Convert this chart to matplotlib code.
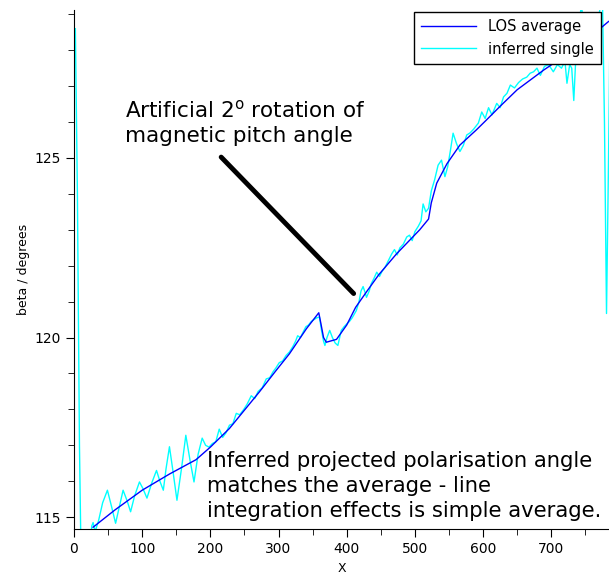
import matplotlib
matplotlib.use('Agg')
import matplotlib.pyplot as plt
from matplotlib.ticker import MultipleLocator

# LOS average (blue)
avg_x = [28, 60, 100, 140, 179, 200, 228, 250, 272, 295, 316, 341, 359, 362, 366, 370,
         385, 400, 413, 430, 447, 473, 507, 520, 524, 532, 547, 566, 590, 605, 625, 650,
         689, 740, 784]
avg_y = [114.72, 115.2, 115.75, 116.2, 116.6, 116.95, 117.47, 117.98, 118.49, 119.05,
         119.55, 120.25, 120.69, 120.4, 120.0, 119.87, 119.95, 120.35, 120.84, 121.3,
         121.75, 122.33, 123.0, 123.3, 123.75, 124.3, 124.84, 125.36, 125.78, 126.06,
         126.44, 126.9, 127.45, 128.1, 128.8]

# inferred single (cyan)
inf_x = [2, 5, 8, 11, 16, 22, 26, 28, 31, 36, 42, 49, 55, 61, 66, 72, 78, 83, 89, 96,
         101, 107, 114, 121, 126, 131, 135, 140, 145, 151, 158, 164, 170, 176, 182, 188,
         193, 198, 203, 208, 213, 218, 223, 228, 233, 238, 243, 249, 254, 260, 265, 270,
         276, 282, 287, 292, 296, 301, 306, 311, 316, 321, 325, 328, 332, 336, 340, 344,
         348, 352, 356, 360, 363, 366, 368, 371, 375, 379, 383, 387, 392, 396, 400, 404,
         408, 414, 418, 421, 424, 427, 429, 433, 436, 440, 444, 448, 452, 456, 460, 466,
         470, 474, 478, 483, 488, 492, 496, 500, 505, 509, 512, 516, 520, 524, 529, 534,
         539, 544, 548, 552, 556, 561, 566, 571, 576, 581, 586, 593, 598, 603, 608, 613,
         620, 625, 630, 635, 640, 646, 652, 658, 664, 669, 674, 679, 684, 690, 696, 703,
         709, 715, 720, 723, 727, 730, 733, 736, 740, 744, 748, 752, 758, 764, 770, 775,
         778, 781, 784, 787]
inf_y = [128.6, 124.0, 117.0, 113.0, 112.0, 113.5, 114.75, 114.85, 114.6, 114.9, 115.4,
         115.75, 115.3, 114.83, 115.25, 115.75, 115.45, 115.15, 115.6, 115.98, 115.8,
         115.53, 115.95, 116.3, 116.0, 115.75, 116.35, 116.96, 116.3, 115.47, 116.4,
         117.28, 116.6, 115.98, 116.75, 117.2, 117.0, 116.95, 117.05, 117.1, 117.45,
         117.22, 117.35, 117.56, 117.6, 117.89, 117.85, 118.0, 118.15, 118.38, 118.3,
         118.5, 118.6, 118.85, 118.88, 119.05, 119.15, 119.3, 119.35, 119.5, 119.6,
         119.75, 119.9, 120.05, 120.0, 120.15, 120.3, 120.35, 120.45, 120.5, 120.55,
         120.57, 120.2, 119.9, 119.78, 120.0, 120.2, 120.0, 119.85, 119.78, 120.2, 120.3,
         120.38, 120.45, 120.55, 120.75, 121.0, 121.3, 121.42, 121.25, 121.12, 121.3,
         121.5, 121.65, 121.82, 121.7, 121.85, 121.95, 122.1, 122.33, 122.45, 122.3,
         122.5, 122.6, 122.8, 122.85, 122.7, 122.95, 123.1, 123.25, 123.72, 123.5,
         123.6, 124.08, 124.4, 124.8, 124.94, 124.48, 124.75, 125.2, 125.69, 125.4,
         125.18, 125.35, 125.64, 125.7, 125.8, 125.97, 126.28, 126.1, 126.4, 126.2,
         126.52, 126.4, 126.7, 126.8, 127.03, 126.95, 127.1, 127.2, 127.25, 127.36,
         127.4, 127.5, 127.3, 127.55, 127.6, 127.4, 127.6, 127.5, 127.7, 127.08, 127.6,
         127.5, 126.6, 127.8, 128.4, 129.3, 128.6, 128.5, 128.7, 128.8, 129.0, 129.5,
         126.0, 120.67, 125.0, 130.0]

fig = plt.figure(figsize=(6.09, 5.77), dpi=100)
ax = fig.add_axes([74 / 609, 48 / 577, 0.88, 519 / 577])

ax.plot(inf_x, inf_y, color='cyan', lw=1.0, label='inferred single', zorder=2)
ax.plot(avg_x, avg_y, color='blue', lw=1.0, label='LOS average', zorder=3)

ax.set_xlim(0, 786)
ax.set_ylim(114.67, 129.12)
ax.xaxis.set_major_locator(MultipleLocator(100))
ax.xaxis.set_minor_locator(MultipleLocator(50))
ax.yaxis.set_major_locator(MultipleLocator(5))
ax.yaxis.set_minor_locator(MultipleLocator(1))
ax.tick_params(which='major', direction='out', length=6, labelsize=10)
ax.tick_params(which='minor', direction='out', length=4)
ax.spines['top'].set_visible(False)
ax.spines['right'].set_visible(False)

ax.set_xlabel('X', fontsize=9, labelpad=4)
ax.set_ylabel('beta / degrees', fontsize=9, labelpad=3)

handles, labels = ax.get_legend_handles_labels()
leg = ax.legend(handles[::-1], labels[::-1], loc='upper right',
                bbox_to_anchor=(601 / 609, 1 - 12 / 577), bbox_transform=fig.transFigure,
                borderaxespad=0, fontsize=10.5, fancybox=False, framealpha=1,
                handlelength=3.8, borderpad=0.5, labelspacing=0.5)
leg.get_frame().set_edgecolor('black')
leg.get_frame().set_linewidth(1.0)

ax.text(0.095, 0.828, 'Artificial 2$^{\\mathrm{o}}$ rotation of\nmagnetic pitch angle',
        transform=ax.transAxes, fontsize=15.5, va='top', ha='left', linespacing=1.3)
ax.annotate('', xy=(413, 121.17), xytext=(213, 125.08),
            arrowprops=dict(arrowstyle='-', lw=3.5, color='black'))
ax.text(0.248, 0.150, 'Inferred projected polarisation angle\nmatches the average - line\n'
        'integration effects is simple average.',
        transform=ax.transAxes, fontsize=15.2, va='top', ha='left', linespacing=1.3)

fig.savefig('out.png', dpi=100)
